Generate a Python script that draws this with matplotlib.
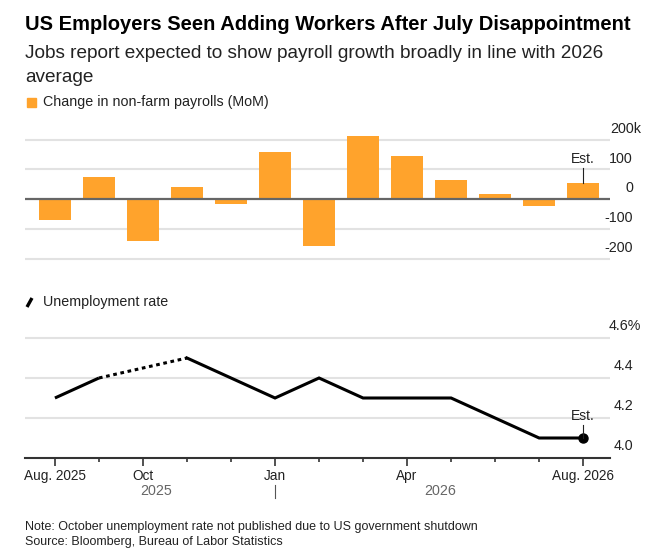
import matplotlib
matplotlib.use("Agg")
import matplotlib.pyplot as plt
from matplotlib.lines import Line2D
from matplotlib.patches import Rectangle
from matplotlib.transforms import blended_transform_factory

plt.rcParams['font.family'] = ['Liberation Sans', 'DejaVu Sans']

# data
months = ['Aug. 2025', 'Sep', 'Oct', 'Nov', 'Dec', 'Jan', 'Feb', 'Mar',
          'Apr', 'May', 'Jun', 'Jul', 'Aug. 2026']
payrolls = [-72, 74, -142, 39, -18, 159, -159, 213, 146, 63, 18, -25, 53]
unemp_before = [4.3, 4.4]          # Aug, Sep 2025
unemp_gap = [4.4, 4.5]             # Sep -> Nov (Oct not published)
unemp_after = [4.5, 4.4, 4.3, 4.4, 4.3, 4.3, 4.3, 4.2, 4.1, 4.1]  # Nov 2025 - Aug 2026
bar_ticks = [200, 100, 0, -100, -200]
bar_tick_labels = ['200k', '100', '0', '-100', '-200']
rate_ticks = [4.6, 4.4, 4.2, 4.0]
rate_tick_labels = ['4.6%', '4.4', '4.2', '4.0']
major_idx = [0, 2, 5, 8, 12]

W, H = 666, 558
fig = plt.figure(figsize=(W / 100, H / 100), dpi=100)

def fx(px):
    return px / W

def fy(px):
    return 1 - px / H

ORANGE = '#ffa32c'
GRID = '#e2e2e2'
DARK = '#222222'

x = list(range(len(months)))
xl = (-0.68, 12.61)

# header
fig.text(fx(25), fy(25), 'US Employers Seen Adding Workers After July Disappointment',
         fontsize=14.5, fontweight='bold', va='center', ha='left', color='black')
fig.text(fx(25), fy(53), 'Jobs report expected to show payroll growth broadly in line with 2026',
         fontsize=13.7, va='center', ha='left', color=DARK)
fig.text(fx(25), fy(77), 'average', fontsize=13.7, va='center', ha='left', color=DARK)

# legend 1
fig.patches.append(Rectangle((fx(27), fy(107)), 9 / W, 9 / H, transform=fig.transFigure,
                             color=ORANGE, figure=fig))
fig.text(fx(43), fy(102), 'Change in non-farm payrolls (MoM)', fontsize=10.3,
         va='center', ha='left', color=DARK)

# bar panel
ax1 = fig.add_axes([fx(25), fy(261.5), fx(610) - fx(25), (261.5 - 130.6) / H])
ax1.set_xlim(*xl)
ax1.set_ylim(-210, 230)
for t in bar_ticks:
    if t == 0:
        continue
    ax1.axhline(t, color=GRID, lw=1.5, zorder=0)
ax1.bar(x, payrolls, width=0.74, color=ORANGE, zorder=2)
ax1.axhline(0, color='#666666', lw=1.6, zorder=3)
for s in ax1.spines.values():
    s.set_visible(False)
ax1.set_xticks([])
ax1.set_yticks([])
tr1 = blended_transform_factory(fig.transFigure, ax1.transData)
for t, lab in zip(bar_ticks, bar_tick_labels):
    ax1.text(fx(641 if lab.endswith('k') else 633), t + 12, lab, transform=tr1,
             ha='right', va='bottom', fontsize=10.3, color=DARK)
ax1.text(12, 134, 'Est.', ha='center', va='center', fontsize=10, color=DARK)
ax1.plot([12, 12], [104, payrolls[-1]], color=DARK, lw=0.8, zorder=4)

# legend 2
fig.lines.append(Line2D([fx(27), fx(32)], [fy(307), fy(298)], transform=fig.transFigure,
                        color='black', lw=2.4, solid_capstyle='butt'))
fig.text(fx(43), fy(302), 'Unemployment rate', fontsize=10.3, va='center', ha='left',
         color=DARK)

# line panel
ax2 = fig.add_axes([fx(25), fy(458), fx(610) - fx(25), (458 - 334) / H])
ax2.set_xlim(*xl)
ax2.set_ylim(4.0, 4.62)
for t in rate_ticks[:-1]:
    ax2.axhline(t, color=GRID, lw=1.5, zorder=0)
ax2.plot(x[0:2], unemp_before, color='black', lw=2.2, solid_capstyle='butt', zorder=3)
ax2.plot([1, 3], unemp_gap, color='black', lw=2.2, ls=(0, (1.2, 1.2)), zorder=3)
ax2.plot(x[3:], unemp_after, color='black', lw=2.2, solid_joinstyle='miter', zorder=3)
ax2.plot(x[-1], unemp_after[-1], 'o', color='black', ms=6.5, zorder=4, clip_on=False)
ax2.text(12, 4.21, 'Est.', ha='center', va='center', fontsize=10, color=DARK)
ax2.plot([12, 12], [4.165, unemp_after[-1]], color=DARK, lw=0.8, zorder=4)
for s in ['top', 'left', 'right']:
    ax2.spines[s].set_visible(False)
ax2.spines['bottom'].set_color('#333333')
ax2.spines['bottom'].set_linewidth(1.5)
ax2.set_yticks([])
ax2.set_xticks([x[i] for i in major_idx])
ax2.set_xticklabels([months[i] for i in major_idx], fontsize=9.8, color=DARK)
ax2.set_xticks([i for i in x if i not in major_idx], minor=True)
ax2.tick_params(axis='x', which='major', length=6, width=1.2, color='#333333', pad=2)
ax2.tick_params(axis='x', which='minor', length=3, width=1.2, color='#333333')
tr2 = blended_transform_factory(fig.transFigure, ax2.transData)
for t, lab in zip(rate_ticks, rate_tick_labels):
    ax2.text(fx(641 if lab.endswith('%') else 633), t + 0.025, lab, transform=tr2,
             ha='right', va='bottom', fontsize=10.3, color=DARK)

# year labels
tr3 = blended_transform_factory(ax2.transData, fig.transFigure)
fig.text(2.3, fy(491), '2025', transform=tr3, ha='center', va='center', fontsize=10.3,
         color='#666666')
fig.text(8.75, fy(491), '2026', transform=tr3, ha='center', va='center', fontsize=10.3,
         color='#666666')
fig.lines.append(Line2D([5, 5], [fy(485), fy(498)], transform=tr3, color='#555555', lw=0.8))

# footer
fig.text(fx(25), fy(527), 'Note: October unemployment rate not published due to US government shutdown',
         fontsize=9.0, va='center', ha='left', color=DARK)
fig.text(fx(25), fy(542), 'Source: Bloomberg, Bureau of Labor Statistics',
         fontsize=9.0, va='center', ha='left', color=DARK)

fig.savefig('out.png', dpi=100)
